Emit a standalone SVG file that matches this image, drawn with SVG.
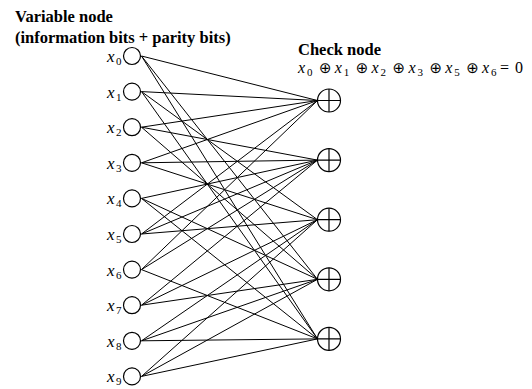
<svg xmlns="http://www.w3.org/2000/svg" width="532" height="389" viewBox="0 0 532 389">
<style>
.t{font-family:"Liberation Serif","Times New Roman",serif;font-weight:bold;font-size:16.5px;fill:#000}
.v{font-family:"Liberation Serif","Times New Roman",serif;font-style:italic;font-size:17px;fill:#000}
.q{font-family:"Liberation Serif","Times New Roman",serif;font-style:italic;font-size:16px;fill:#000}
.s{font-size:11px;font-style:normal}
.op{font-family:"DejaVu Sans",sans-serif;font-size:15px;font-style:normal}
.r{font-style:normal}
.n{fill:#fff;stroke:#000;stroke-width:1.2}
.p{stroke:#000;stroke-width:1.2;fill:none}
.e line{stroke:#000;stroke-width:1}
</style>
<rect width="532" height="389" fill="#fff"/>
<text class="t" x="15" y="22">Variable node</text>
<text class="t" x="15" y="43">(information bits + parity bits)</text>
<text class="t" x="298" y="55">Check node</text>
<g id="equation">
<text class="q" y="73"><tspan x="298">x</tspan><tspan class="s" x="307" y="76">0</tspan><tspan class="op" x="319" y="73">⊕</tspan><tspan x="334.8">x</tspan><tspan class="s" x="343.8" y="76">1</tspan><tspan class="op" x="355.8" y="73">⊕</tspan><tspan x="371.6">x</tspan><tspan class="s" x="380.6" y="76">2</tspan><tspan class="op" x="392.6" y="73">⊕</tspan><tspan x="408.4">x</tspan><tspan class="s" x="417.4" y="76">3</tspan><tspan class="op" x="429.4" y="73">⊕</tspan><tspan x="445.2">x</tspan><tspan class="s" x="454.2" y="76">5</tspan><tspan class="op" x="466.2" y="73">⊕</tspan><tspan x="482">x</tspan><tspan class="s" x="491" y="76">6</tspan><tspan class="r" x="500" y="73">=</tspan><tspan class="r" x="515">0</tspan></text>
</g>
<g id="edges" class="e">
<line x1="141.5" y1="56" x2="317.5" y2="100.5"/>
<line x1="141.5" y1="91.6" x2="317.5" y2="100.5"/>
<line x1="141.5" y1="127.2" x2="317.5" y2="100.5"/>
<line x1="141.5" y1="162.8" x2="317.5" y2="100.5"/>
<line x1="141.5" y1="234" x2="317.5" y2="100.5"/>
<line x1="141.5" y1="269.6" x2="317.5" y2="100.5"/>
<line x1="141.5" y1="127.2" x2="317.5" y2="160.1"/>
<line x1="141.5" y1="162.8" x2="317.5" y2="160.1"/>
<line x1="141.5" y1="198.4" x2="317.5" y2="160.1"/>
<line x1="141.5" y1="234" x2="317.5" y2="160.1"/>
<line x1="141.5" y1="269.6" x2="317.5" y2="160.1"/>
<line x1="141.5" y1="305.2" x2="317.5" y2="160.1"/>
<line x1="141.5" y1="91.6" x2="317.5" y2="219.7"/>
<line x1="141.5" y1="162.8" x2="317.5" y2="219.7"/>
<line x1="141.5" y1="234" x2="317.5" y2="219.7"/>
<line x1="141.5" y1="305.2" x2="317.5" y2="219.7"/>
<line x1="141.5" y1="340.8" x2="317.5" y2="219.7"/>
<line x1="141.5" y1="376.4" x2="317.5" y2="219.7"/>
<line x1="141.5" y1="56" x2="317.5" y2="279.3"/>
<line x1="141.5" y1="127.2" x2="317.5" y2="279.3"/>
<line x1="141.5" y1="198.4" x2="317.5" y2="279.3"/>
<line x1="141.5" y1="305.2" x2="317.5" y2="279.3"/>
<line x1="141.5" y1="340.8" x2="317.5" y2="279.3"/>
<line x1="141.5" y1="376.4" x2="317.5" y2="279.3"/>
<line x1="141.5" y1="56" x2="317.5" y2="338.9"/>
<line x1="141.5" y1="91.6" x2="317.5" y2="338.9"/>
<line x1="141.5" y1="198.4" x2="317.5" y2="338.9"/>
<line x1="141.5" y1="269.6" x2="317.5" y2="338.9"/>
<line x1="141.5" y1="340.8" x2="317.5" y2="338.9"/>
<line x1="141.5" y1="376.4" x2="317.5" y2="338.9"/>
</g>
<g id="x0"><circle class="n" cx="132" cy="56" r="8.5"/><text class="v" x="107" y="62">x<tspan class="s" x="116" y="65">0</tspan></text></g>
<g id="x1"><circle class="n" cx="132" cy="91.6" r="8.5"/><text class="v" x="107" y="97.6">x<tspan class="s" x="116" y="100.6">1</tspan></text></g>
<g id="x2"><circle class="n" cx="132" cy="127.2" r="8.5"/><text class="v" x="107" y="133.2">x<tspan class="s" x="116" y="136.2">2</tspan></text></g>
<g id="x3"><circle class="n" cx="132" cy="162.8" r="8.5"/><text class="v" x="107" y="168.8">x<tspan class="s" x="116" y="171.8">3</tspan></text></g>
<g id="x4"><circle class="n" cx="132" cy="198.4" r="8.5"/><text class="v" x="107" y="204.4">x<tspan class="s" x="116" y="207.4">4</tspan></text></g>
<g id="x5"><circle class="n" cx="132" cy="234" r="8.5"/><text class="v" x="107" y="240">x<tspan class="s" x="116" y="243">5</tspan></text></g>
<g id="x6"><circle class="n" cx="132" cy="269.6" r="8.5"/><text class="v" x="107" y="275.6">x<tspan class="s" x="116" y="278.6">6</tspan></text></g>
<g id="x7"><circle class="n" cx="132" cy="305.2" r="8.5"/><text class="v" x="107" y="311.2">x<tspan class="s" x="116" y="314.2">7</tspan></text></g>
<g id="x8"><circle class="n" cx="132" cy="340.8" r="8.5"/><text class="v" x="107" y="346.8">x<tspan class="s" x="116" y="349.8">8</tspan></text></g>
<g id="x9"><circle class="n" cx="132" cy="376.4" r="8.5"/><text class="v" x="107" y="382.4">x<tspan class="s" x="116" y="385.4">9</tspan></text></g>
<g id="c0"><circle class="n" cx="329" cy="100.5" r="11.5"/><path class="p" d="M317.5 100.5H340.5M329 89V112"/></g>
<g id="c1"><circle class="n" cx="329" cy="160.1" r="11.5"/><path class="p" d="M317.5 160.1H340.5M329 148.6V171.6"/></g>
<g id="c2"><circle class="n" cx="329" cy="219.7" r="11.5"/><path class="p" d="M317.5 219.7H340.5M329 208.2V231.2"/></g>
<g id="c3"><circle class="n" cx="329" cy="279.3" r="11.5"/><path class="p" d="M317.5 279.3H340.5M329 267.8V290.8"/></g>
<g id="c4"><circle class="n" cx="329" cy="338.9" r="11.5"/><path class="p" d="M317.5 338.9H340.5M329 327.4V350.4"/></g>
</svg>
